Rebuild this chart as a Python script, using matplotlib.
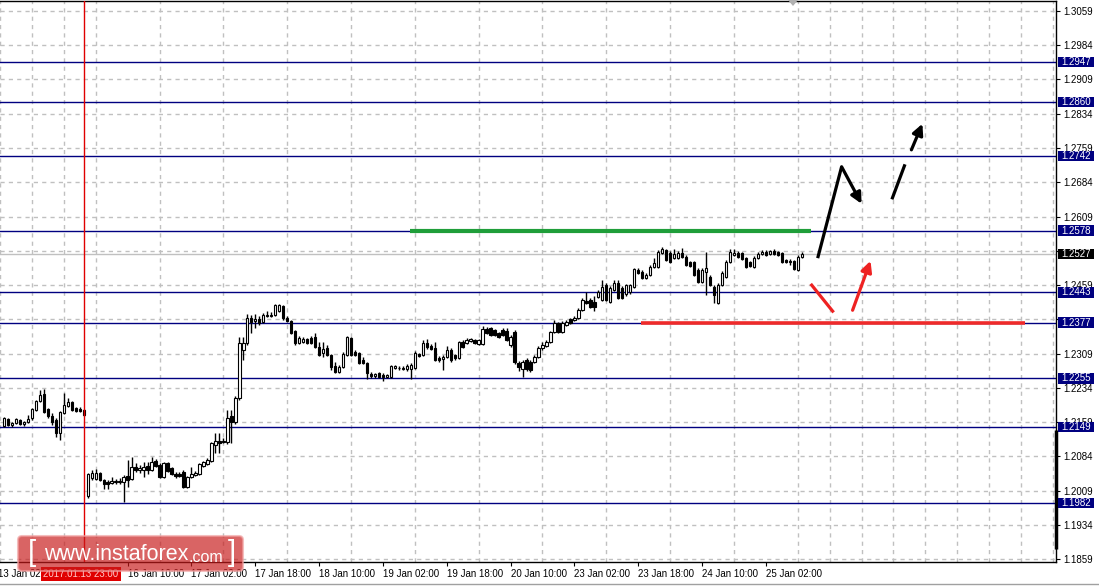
import matplotlib
matplotlib.use("Agg")
import matplotlib.pyplot as plt
import numpy as np
from matplotlib.patches import Rectangle, FancyBboxPatch, Polygon
from matplotlib.transforms import blended_transform_factory, IdentityTransform

# ===== DATA (GBPUSD H1, 13 Jan 03:00 -> 25 Jan 05:00) =====
opens = [1.2150, 1.2166, 1.2153, 1.2157, 1.2164, 1.2155, 1.2159, 1.2168, 1.2185, 1.2205,
         1.2220, 1.2188, 1.2172, 1.2164, 1.2135, 1.2179, 1.2194, 1.2203, 1.2190, 1.2188,
         1.2185, 1.1997, 1.2036, 1.2034, 1.2047, 1.2032, 1.2028, 1.2025, 1.2028, 1.2028,
         1.2028, 1.2041, 1.2034, 1.2061, 1.2054, 1.2054, 1.2063, 1.2054, 1.2074, 1.2065,
         1.2039, 1.2069, 1.2058, 1.2045, 1.2045, 1.2050, 1.2017, 1.2039, 1.2043, 1.2045,
         1.2063, 1.2067, 1.2074, 1.2109, 1.2118, 1.2118, 1.2115, 1.2172, 1.2159, 1.2212,
         1.2317, 1.2332, 1.2387, 1.2380, 1.2385, 1.2378, 1.2391, 1.2391, 1.2394, 1.2402,
         1.2413, 1.2387, 1.2380, 1.2358, 1.2332, 1.2334, 1.2341, 1.2343, 1.2345, 1.2323,
         1.2310, 1.2321, 1.2306, 1.2282, 1.2269, 1.2280, 1.2306, 1.2343, 1.2312, 1.2310,
         1.2295, 1.2288, 1.2264, 1.2260, 1.2266, 1.2262, 1.2258, 1.2258, 1.2277, 1.2277,
         1.2275, 1.2275, 1.2275, 1.2277, 1.2308, 1.2306, 1.2332, 1.2326, 1.2321, 1.2299,
         1.2297, 1.2302, 1.2317, 1.2306, 1.2299, 1.2334, 1.2332, 1.2337, 1.2339, 1.2330,
         1.2330, 1.2363, 1.2365, 1.2361, 1.2354, 1.2361, 1.2358, 1.2328, 1.2356, 1.2288,
         1.2275, 1.2295, 1.2291, 1.2291, 1.2302, 1.2321, 1.2326, 1.2334, 1.2356, 1.2376,
         1.2356, 1.2372, 1.2385, 1.2383, 1.2387, 1.2404, 1.2424, 1.2426, 1.2422, 1.2433,
         1.2426, 1.2459, 1.2422, 1.2448, 1.2464, 1.2453, 1.2440, 1.2444, 1.2455, 1.2492,
         1.2488, 1.2475, 1.2481, 1.2499, 1.2499, 1.2529, 1.2536, 1.2529, 1.2518, 1.2518,
         1.2529, 1.2521, 1.2510, 1.2510, 1.2492, 1.2466, 1.2488, 1.2477, 1.2455, 1.2420,
         1.2459, 1.2477, 1.2510, 1.2525, 1.2529, 1.2529, 1.2518, 1.2510, 1.2499, 1.2518,
         1.2527, 1.2532, 1.2527, 1.2534, 1.2532, 1.2529, 1.2514, 1.2512, 1.2512, 1.2492,
         1.2521]
highs = [1.2170, 1.2168, 1.2159, 1.2168, 1.2166, 1.2161, 1.2174, 1.2190, 1.2207, 1.2229,
         1.2231, 1.2190, 1.2179, 1.2168, 1.2183, 1.2223, 1.2212, 1.2205, 1.2192, 1.2192,
         1.2188, 1.2047, 1.2054, 1.2056, 1.2050, 1.2034, 1.2032, 1.2039, 1.2034, 1.2036,
         1.2043, 1.2076, 1.2082, 1.2069, 1.2065, 1.2072, 1.2072, 1.2082, 1.2078, 1.2069,
         1.2072, 1.2072, 1.2061, 1.2050, 1.2050, 1.2054, 1.2041, 1.2061, 1.2052, 1.2069,
         1.2074, 1.2080, 1.2115, 1.2135, 1.2135, 1.2124, 1.2185, 1.2185, 1.2216, 1.2345,
         1.2345, 1.2396, 1.2394, 1.2396, 1.2391, 1.2398, 1.2402, 1.2400, 1.2418, 1.2418,
         1.2415, 1.2391, 1.2383, 1.2361, 1.2348, 1.2345, 1.2343, 1.2348, 1.2354, 1.2334,
         1.2334, 1.2328, 1.2308, 1.2291, 1.2284, 1.2312, 1.2348, 1.2345, 1.2317, 1.2312,
         1.2302, 1.2291, 1.2269, 1.2266, 1.2269, 1.2266, 1.2264, 1.2284, 1.2284, 1.2282,
         1.2282, 1.2286, 1.2288, 1.2315, 1.2310, 1.2339, 1.2341, 1.2330, 1.2334, 1.2304,
         1.2306, 1.2326, 1.2321, 1.2308, 1.2337, 1.2339, 1.2343, 1.2343, 1.2341, 1.2341,
         1.2369, 1.2367, 1.2367, 1.2363, 1.2356, 1.2365, 1.2365, 1.2350, 1.2361, 1.2293,
         1.2295, 1.2299, 1.2295, 1.2306, 1.2326, 1.2334, 1.2339, 1.2358, 1.2383, 1.2378,
         1.2380, 1.2383, 1.2387, 1.2391, 1.2409, 1.2431, 1.2444, 1.2431, 1.2435, 1.2448,
         1.2470, 1.2464, 1.2457, 1.2470, 1.2470, 1.2457, 1.2461, 1.2461, 1.2497, 1.2497,
         1.2492, 1.2486, 1.2503, 1.2518, 1.2536, 1.2542, 1.2538, 1.2534, 1.2538, 1.2534,
         1.2540, 1.2525, 1.2512, 1.2512, 1.2497, 1.2497, 1.2532, 1.2481, 1.2459, 1.2464,
         1.2490, 1.2514, 1.2538, 1.2538, 1.2534, 1.2532, 1.2521, 1.2512, 1.2523, 1.2532,
         1.2536, 1.2536, 1.2536, 1.2538, 1.2534, 1.2532, 1.2516, 1.2516, 1.2514, 1.2525,
         1.2532]
lows = [1.2148, 1.2150, 1.2148, 1.2155, 1.2153, 1.2150, 1.2157, 1.2164, 1.2183, 1.2203,
        1.2179, 1.2168, 1.2153, 1.2126, 1.2120, 1.2177, 1.2192, 1.2183, 1.2181, 1.2181,
        1.2172, 1.1993, 1.2032, 1.2032, 1.2030, 1.2012, 1.2012, 1.2023, 1.2023, 1.2023,
        1.1984, 1.2017, 1.2032, 1.2050, 1.2047, 1.2039, 1.2045, 1.2052, 1.2061, 1.2036,
        1.2036, 1.2050, 1.2043, 1.2036, 1.2039, 1.2015, 1.2015, 1.2036, 1.2041, 1.2043,
        1.2061, 1.2065, 1.2072, 1.2091, 1.2091, 1.2113, 1.2111, 1.2113, 1.2155, 1.2207,
        1.2295, 1.2328, 1.2354, 1.2365, 1.2372, 1.2376, 1.2389, 1.2389, 1.2391, 1.2400,
        1.2383, 1.2378, 1.2352, 1.2328, 1.2330, 1.2332, 1.2330, 1.2330, 1.2321, 1.2304,
        1.2302, 1.2304, 1.2273, 1.2266, 1.2266, 1.2277, 1.2304, 1.2304, 1.2304, 1.2286,
        1.2286, 1.2253, 1.2256, 1.2256, 1.2256, 1.2249, 1.2256, 1.2256, 1.2275, 1.2273,
        1.2273, 1.2271, 1.2253, 1.2275, 1.2302, 1.2304, 1.2319, 1.2317, 1.2293, 1.2291,
        1.2273, 1.2299, 1.2291, 1.2295, 1.2297, 1.2321, 1.2330, 1.2334, 1.2330, 1.2328,
        1.2328, 1.2352, 1.2348, 1.2348, 1.2343, 1.2348, 1.2337, 1.2323, 1.2286, 1.2271,
        1.2258, 1.2271, 1.2269, 1.2288, 1.2299, 1.2317, 1.2323, 1.2332, 1.2354, 1.2354,
        1.2354, 1.2369, 1.2374, 1.2380, 1.2385, 1.2402, 1.2418, 1.2409, 1.2402, 1.2431,
        1.2424, 1.2424, 1.2420, 1.2446, 1.2429, 1.2429, 1.2435, 1.2440, 1.2453, 1.2483,
        1.2472, 1.2472, 1.2479, 1.2497, 1.2497, 1.2527, 1.2512, 1.2507, 1.2516, 1.2516,
        1.2518, 1.2501, 1.2499, 1.2479, 1.2464, 1.2464, 1.2437, 1.2457, 1.2420, 1.2418,
        1.2457, 1.2475, 1.2507, 1.2523, 1.2518, 1.2514, 1.2497, 1.2499, 1.2497, 1.2516,
        1.2525, 1.2523, 1.2525, 1.2525, 1.2523, 1.2507, 1.2507, 1.2503, 1.2492, 1.2490,
        1.2518]
closes = [1.2168, 1.2153, 1.2157, 1.2166, 1.2155, 1.2159, 1.2166, 1.2188, 1.2205, 1.2218,
          1.2181, 1.2172, 1.2159, 1.2135, 1.2181, 1.2196, 1.2203, 1.2185, 1.2183, 1.2183,
          1.2174, 1.2045, 1.2047, 1.2047, 1.2032, 1.2023, 1.2023, 1.2030, 1.2030, 1.2030,
          1.2039, 1.2032, 1.2061, 1.2054, 1.2058, 1.2061, 1.2054, 1.2072, 1.2063, 1.2039,
          1.2069, 1.2052, 1.2045, 1.2041, 1.2041, 1.2017, 1.2039, 1.2045, 1.2047, 1.2067,
          1.2072, 1.2076, 1.2113, 1.2118, 1.2113, 1.2115, 1.2168, 1.2159, 1.2212, 1.2332,
          1.2332, 1.2387, 1.2378, 1.2385, 1.2376, 1.2394, 1.2394, 1.2394, 1.2415, 1.2415,
          1.2387, 1.2380, 1.2354, 1.2332, 1.2343, 1.2341, 1.2332, 1.2332, 1.2323, 1.2306,
          1.2319, 1.2306, 1.2280, 1.2269, 1.2280, 1.2308, 1.2345, 1.2306, 1.2306, 1.2288,
          1.2288, 1.2266, 1.2260, 1.2264, 1.2258, 1.2258, 1.2262, 1.2282, 1.2282, 1.2278,
          1.2277, 1.2282, 1.2284, 1.2310, 1.2304, 1.2332, 1.2323, 1.2319, 1.2295, 1.2295,
          1.2302, 1.2317, 1.2295, 1.2299, 1.2334, 1.2323, 1.2339, 1.2341, 1.2332, 1.2339,
          1.2363, 1.2354, 1.2350, 1.2350, 1.2345, 1.2350, 1.2339, 1.2345, 1.2291, 1.2280,
          1.2291, 1.2275, 1.2273, 1.2302, 1.2321, 1.2328, 1.2334, 1.2356, 1.2376, 1.2356,
          1.2376, 1.2378, 1.2376, 1.2387, 1.2404, 1.2426, 1.2420, 1.2411, 1.2411, 1.2444,
          1.2455, 1.2426, 1.2453, 1.2464, 1.2431, 1.2431, 1.2459, 1.2459, 1.2494, 1.2486,
          1.2475, 1.2481, 1.2499, 1.2507, 1.2532, 1.2538, 1.2514, 1.2510, 1.2527, 1.2529,
          1.2521, 1.2503, 1.2501, 1.2481, 1.2466, 1.2492, 1.2497, 1.2459, 1.2437, 1.2459,
          1.2486, 1.2510, 1.2532, 1.2529, 1.2521, 1.2516, 1.2499, 1.2501, 1.2518, 1.2527,
          1.2532, 1.2525, 1.2534, 1.2527, 1.2525, 1.2510, 1.2510, 1.2510, 1.2494, 1.2521,
          1.2527]

levels = [1.2947, 1.2860, 1.2742, 1.2578, 1.2443, 1.2377, 1.2255, 1.2149, 1.1982]
bid_price = 1.2527

price_ticks = [1.1859, 1.1934, 1.2009, 1.2084, 1.2159, 1.2234, 1.2309, 1.2384, 1.2459,
               1.2534, 1.2609, 1.2684, 1.2759, 1.2834, 1.2909, 1.2984, 1.3059]
# labels fully covered by the level boxes on the price scale
hidden_ticks = [1.2384, 1.2534]

time_tick_bars = [-1, 15, 31, 47, 63, 79, 95, 111, 127, 143, 159, 175, 191]
time_tick_labels = ["13 Jan 02:00", "13 Jan 18:00", "16 Jan 10:00", "17 Jan 02:00",
                    "17 Jan 18:00", "18 Jan 10:00", "19 Jan 02:00", "19 Jan 18:00",
                    "20 Jan 10:00", "23 Jan 02:00", "23 Jan 18:00", "24 Jan 10:00",
                    "25 Jan 02:00"]

# marked bar (2017.01.13 23:00)
marked_bar = 20
marked_label = "2017.01.13 23:00"

# resistance / support segments (bar index range, price)
green_seg = ([101.75, 202.25], 1.2578)
red_seg = ([159.75, 256.0], 1.2377)

# forecast arrows (bar index, price)
black_path = ([204.0, 210.0, 215.0], [1.2518, 1.2718, 1.2637])
black_dash1 = ([222.75, 225.75], [1.2650, 1.2720])
black_dash2 = ([227.5, 230.25], [1.2755, 1.2812])
red_stroke = ([202.5, 207.75], [1.2459, 1.2402])
red_arrow = ([212.75, 217.25], [1.2404, 1.2512])

# view range
x_min, x_max = -0.25, 263.75
y_min, y_max = 1.18531, 1.30807

W, H = 1099, 586
NAVY = "#000080"
FS = 7

plt.rcParams["font.family"] = ["Liberation Sans", "DejaVu Sans"]


def px(x, y):
    # pixel (top-left origin) -> figure fraction
    return x / W, 1 - y / H


def draw_candles(ax):
    o = np.array(opens)
    h = np.array(highs)
    l = np.array(lows)
    c = np.array(closes)
    x = np.arange(len(o))
    up = c >= o
    ax.vlines(x, l, h, color="black", linewidth=1.0, zorder=3)
    bottom = np.minimum(o, c)
    height = np.maximum(np.abs(c - o), 0.00002)
    ax.bar(x, height, bottom=bottom, width=0.6,
           color=np.where(up, "white", "black"), edgecolor="black",
           linewidth=0.8, zorder=4)


def draw_levels(ax):
    for lv in levels:
        ax.axhline(lv, color=NAVY, linewidth=1.0, zorder=2)
    ax.axhline(bid_price, color="#c0c0c0", linewidth=1.0, zorder=1.5)

    trans = blended_transform_factory(ax.transAxes, ax.transData)
    box_h = 10.5 * (y_max - y_min) / 561
    for lv, bg in [(v, NAVY) for v in levels] + [(bid_price, "black")]:
        ax.add_patch(Rectangle((1058 / 1056, lv - box_h / 2), 36 / 1056, box_h,
                               transform=trans, facecolor=bg, edgecolor="none",
                               clip_on=False, zorder=10))
        ax.text(1061 / 1056, lv, f"{lv:.4f}", transform=trans, color="white",
                fontsize=FS, va="center", ha="left", clip_on=False, zorder=11)


def draw_forecast(ax):
    xs, y = green_seg
    ax.plot(xs, [y, y], color="#1f9e3a", linewidth=3.0, solid_capstyle="butt", zorder=6)
    xs, y = red_seg
    ax.plot(xs, [y, y], color="#ee2a2a", linewidth=2.6, solid_capstyle="butt", zorder=6)

    def arrow(xs, ys, color):
        ax.plot(xs[:-1], ys[:-1], color=color, linewidth=2.3, zorder=7,
                solid_capstyle="butt")
        ax.annotate("", xy=(xs[-1], ys[-1]), xytext=(xs[-2], ys[-2]),
                    arrowprops=dict(arrowstyle="-|>", color=color, lw=2.3,
                                    mutation_scale=16, shrinkA=0, shrinkB=0),
                    zorder=7)

    arrow(black_path[0], black_path[1], "black")
    ax.plot(black_dash1[0], black_dash1[1], color="black", linewidth=2.3, zorder=7)
    arrow(black_dash2[0], black_dash2[1], "black")
    ax.plot(red_stroke[0], red_stroke[1], color="#ee2222", linewidth=2.3, zorder=7)
    arrow(red_arrow[0], red_arrow[1], "#ee2222")


def draw_decor(fig, ax):
    # marked bar: red vertical line + date box
    ax.axvline(marked_bar, color="#e00000", linewidth=1.0, zorder=5)
    fig.text(*px(81, 574), marked_label, color="#ffc8c8", fontsize=FS,
             ha="center", va="center", zorder=4,
             bbox=dict(boxstyle="square,pad=0.2", facecolor="#e00000",
                       edgecolor="none"))

    # watermark
    wm = FancyBboxPatch((18, H - 571), 225, 35, boxstyle="round,pad=0,rounding_size=4",
                        transform=IdentityTransform(), facecolor="#c81a1a",
                        alpha=0.68, edgecolor="#f0a0a0", linewidth=1.5, zorder=5)
    fig.patches.append(wm)
    fig.text(*px(32, 553), "[", color="white", fontsize=21, ha="center",
             va="center", zorder=6)
    fig.text(*px(44, 555), "www.instaforex", color="white", fontsize=15.5,
             ha="left", va="center", zorder=6)
    fig.text(*px(189, 557), ".com", color="white", fontsize=11.5,
             ha="left", va="center", zorder=6)
    fig.text(*px(232, 553), "]", color="white", fontsize=21, ha="center",
             va="center", zorder=6)

    # scroll marker on the price scale
    ax.plot([1, 1], [13 / 561, 132 / 561], transform=ax.transAxes, color="black",
            linewidth=2.5, clip_on=False, zorder=9, solid_capstyle="butt")

    # chart-shift triangle at the top
    tri = Polygon([px(788, 0), px(798, 0), px(793, 6)], closed=True,
                  transform=fig.transFigure, facecolor="#b0b0b0", edgecolor="none")
    fig.patches.append(tri)

    # bottom border line
    fig.add_artist(plt.Line2D([0, 1], [1 - 584 / H] * 2, color="#a0a0a0",
                              linewidth=1.0, transform=fig.transFigure))


def plot_chart():
    fig = plt.figure(figsize=(W / 100, H / 100), dpi=100, facecolor="white")
    ax = fig.add_axes([0, 1 - 562 / H, 1056 / W, 561 / H])
    ax.set_xlim(x_min, x_max)
    ax.set_ylim(y_min, y_max)

    # grid
    ax.set_axisbelow(True)
    ax.set_yticks(price_ticks)
    ax.set_yticklabels(["" if t in hidden_ticks else f"{t:.4f}" for t in price_ticks])
    ax.set_xticks(list(range(-1, 264, 8)), minor=True)
    ax.grid(True, which="major", axis="y", color="#c0c0c0", linestyle=(0, (3, 3)), linewidth=1.0)
    ax.grid(True, which="minor", axis="x", color="#c0c0c0", linestyle=(0, (3, 3)), linewidth=1.0)

    # time scale (the label hidden by the marked-bar box is left out)
    visible = [(b, t) for b, t in zip(time_tick_bars, time_tick_labels)
               if b >= x_min and b != 15]
    ax.set_xticks([b for b, _ in visible])
    ax.set_xticklabels([t for _, t in visible])
    for lbl in ax.get_xticklabels():
        lbl.set_horizontalalignment("left")
    ax.tick_params(axis="x", which="major", length=3, width=0.8, pad=2,
                   labelsize=FS, colors="black")
    ax.tick_params(axis="x", which="minor", length=0)

    ax.yaxis.tick_right()
    ax.tick_params(axis="y", length=3, width=0.8, pad=2, labelsize=FS, colors="black")

    # cut-off first label on the left
    trans = blended_transform_factory(ax.transData, ax.transAxes)
    ax.text(time_tick_bars[0] - 0.6, -0.0125, time_tick_labels[0], transform=trans,
            fontsize=FS, ha="left", va="top", clip_on=False)

    for side in ["top", "right", "bottom"]:
        ax.spines[side].set_color("black")
        ax.spines[side].set_linewidth(1.0)
    ax.spines["left"].set_visible(False)

    draw_candles(ax)
    draw_levels(ax)
    draw_forecast(ax)
    draw_decor(fig, ax)

    fig.savefig("out.png", dpi=100, facecolor="white")


if __name__ == "__main__":
    plot_chart()
